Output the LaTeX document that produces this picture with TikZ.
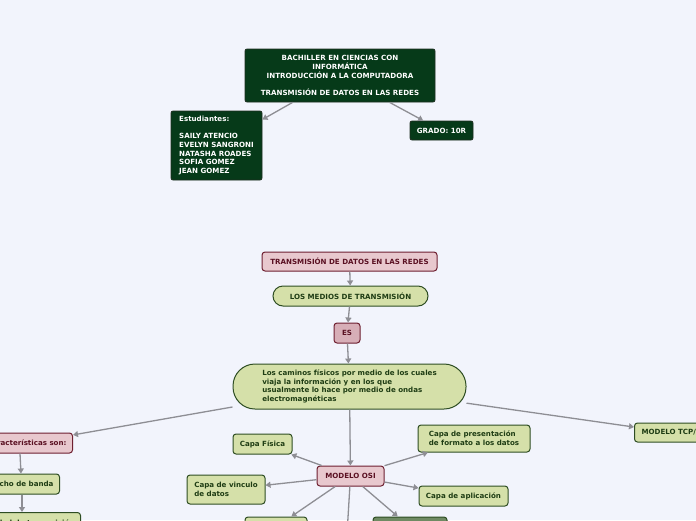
\documentclass[tikz,border=0pt]{standalone}
\usepackage{fontspec}
\setmainfont{DejaVu Sans}
\usetikzlibrary{arrows.meta, positioning}
\definecolor{cbg}{HTML}{F2F4FC}
\definecolor{cdark}{HTML}{063A19}
\definecolor{cdarkline}{HTML}{1E2E20}
\definecolor{cpink}{HTML}{E8C8CE}
\definecolor{cpinkline}{HTML}{6E1F30}
\definecolor{cpinktext}{HTML}{5A1022}
\definecolor{ces}{HTML}{D7AEB7}
\definecolor{cgreen}{HTML}{D5E0A9}
\definecolor{cgreenline}{HTML}{2E4D23}
\definecolor{cgreentext}{HTML}{1F3D14}
\definecolor{colive}{HTML}{6F8A63}
\definecolor{carrow}{HTML}{8E8E94}
\tikzset{
  every picture/.style={font=\bfseries\fontsize{7.1}{8.7}\selectfont},
  darkbox/.style={draw=cdarkline, fill=cdark, text=white, rounded corners=2pt, line width=0.8pt, inner sep=0pt, align=center},
  pinkbox/.style={draw=cpinkline, fill=cpink, text=cpinktext, rounded corners=3pt, line width=1pt, inner sep=0pt, minimum height=20pt, align=center},
  greenbox/.style={draw=cgreenline, fill=cgreen, text=cgreentext, rounded corners=3pt, line width=1pt, inner sep=0pt, minimum height=20pt, align=center},
  arrow/.style={-{Triangle[length=5pt, width=6pt]}, draw=carrow, line width=1.3pt},
}
\begin{document}
\begin{tikzpicture}[x=1pt, y=-1pt]
  \useasboundingbox[fill=cbg] (0,0) rectangle (696,520);
  \clip (0,0) rectangle (696,520);
  % header
  \node[darkbox, minimum width=190pt, minimum height=53pt] (title) at (340,75.5)
    {BACHILLER EN CIENCIAS CON\\INFORMÁTICA\\INTRODUCCIÓN A LA COMPUTADORA\\[8.7pt]TRANSMISIÓN DE DATOS EN LAS REDES};
  \node[darkbox, align=left, minimum width=91pt, minimum height=69pt] (students) at (216.5,145.5)
    {Estudiantes:\\[8.7pt]SAILY ATENCIO\\EVELYN SANGRONI\\NATASHA ROADES\\SOFIA GOMEZ\\JEAN GOMEZ};
  \node[darkbox, minimum width=63pt, minimum height=19pt] (grade) at (441.5,130.5) {GRADO: 10R};
  \draw[arrow] (title) -- (students);
  \draw[arrow] (title) -- (grade);
  % main chain
  \node[pinkbox, minimum width=175pt, minimum height=19pt] (topic) at (349.5,261.5) {TRANSMISIÓN DE DATOS EN LAS REDES};
  \node[greenbox, minimum width=155pt, rounded corners=10pt] (media) at (350.5,296) {LOS MEDIOS DE TRANSMISIÓN};
  \node[pinkbox, fill=ces, minimum width=26pt] (es) at (347,333) {ES};
  \node[greenbox, align=left, minimum width=233pt, minimum height=45pt, rounded corners=22pt] (paths) at (349.5,386.5)
    {Los caminos físicos por medio de los cuales\\viaja la información y en los que\\usualmente lo hace por medio de ondas\\electromagnéticas};
  \draw[arrow] (topic) -- (media);
  \draw[arrow] (media) -- (es);
  \draw[arrow] (es) -- (paths);
  % left branch
  \node[pinkbox, inner xsep=6pt, anchor=east] (traits) at (73,443) {Características son:};
  \node[greenbox, inner xsep=6pt, anchor=east] (bandwidth) at (60,484) {Ancho de banda};
  \node[greenbox, inner xsep=6pt, anchor=north east] (speed) at (81,512) {Velocidad de transmisión};
  \draw[arrow] (paths) -- (traits);
  \draw[arrow] (traits.south -| 20,0) -- (bandwidth.north -| 21,0);
  \draw[arrow] (bandwidth.south -| 22,0) -- (speed.north -| 22,0);
  % right branch
  \node[greenbox, inner xsep=7pt, minimum height=19pt, anchor=west] (tcp) at (634,432.5) {MODELO TCP/IP};
  \draw[arrow] (paths) -- (tcp);
  % OSI layers
  \node[pinkbox, minimum width=67pt] (osi) at (350.5,476) {MODELO OSI};
  \node[greenbox, minimum width=59pt] (physical) at (262.5,444) {Capa Física};
  \node[greenbox, align=left, minimum width=112pt, minimum height=27pt] (presentation) at (474,438.5)
    {Capa de presentación\\de formato a los datos};
  \node[greenbox, align=left, minimum width=78pt, minimum height=29pt] (datalink) at (226,489.5)
    {Capa de vinculo\\de datos};
  \node[greenbox, minimum width=89pt] (application) at (463.5,496) {Capa de aplicación};
  \node[greenbox, minimum width=62pt] (layerA) at (276,527) {};
  \node[greenbox, fill=colive, minimum width=74pt] (layerB) at (410,527) {};
  \coordinate (layerC) at (347,534);
  \draw[arrow] (paths) -- (osi);
  \foreach \n in {physical, presentation, datalink, application, layerA, layerB}
    \draw[arrow] (osi) -- (\n);
  \draw[arrow] (osi) -- (layerC);
\end{tikzpicture}
\end{document}
